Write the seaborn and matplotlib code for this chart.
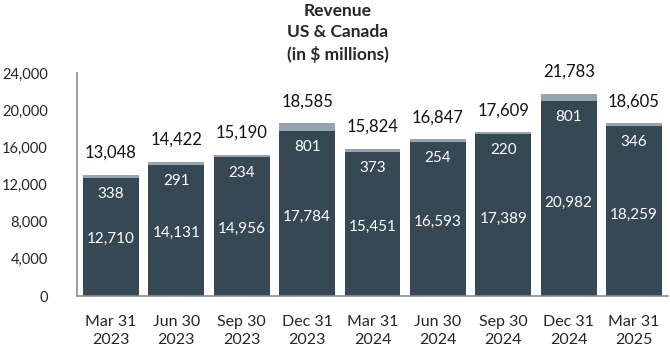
import matplotlib
matplotlib.use("Agg")
import matplotlib.pyplot as plt
import seaborn as sns
import pandas as pd

categories = ["Mar 31\n2023", "Jun 30\n2023", "Sep 30\n2023", "Dec 31\n2023",
              "Mar 31\n2024", "Jun 30\n2024", "Sep 30\n2024", "Dec 31\n2024",
              "Mar 31\n2025"]
base_values = [12710, 14131, 14956, 17784, 15451, 16593, 17389, 20982, 18259]
top_values = [338, 291, 234, 801, 373, 254, 220, 801, 346]
totals = [13048, 14422, 15190, 18585, 15824, 16847, 17609, 21783, 18605]
yticks = [0, 4000, 8000, 12000, 16000, 20000, 24000]

sns.set_theme(style="white")
plt.rcParams['font.family'] = ['Lato', 'DejaVu Sans']

df = pd.DataFrame({"cat": categories, "base": base_values, "top": top_values,
                   "total": totals})

DARK = "#364854"
LIGHT = "#95a5b0"

fig = plt.figure(figsize=(6.7, 3.52), dpi=100)
ax = fig.add_axes([77/670, 1-296/352, 591/670, 223/352])

sns.barplot(data=df, x="cat", y="total", color=LIGHT, saturation=1,
            width=0.856, ax=ax, order=categories, linewidth=0)
sns.barplot(data=df, x="cat", y="base", color=DARK, saturation=1,
            width=0.856, ax=ax, order=categories, linewidth=0)

px = 24000 / 223.0
for i, (b, t, tot) in enumerate(zip(base_values, top_values, totals)):
    ax.text(i, tot + 22*px, f"{tot:,}", ha="center", va="center",
            fontsize=12, color="#111111")
    ax.text(i, b - 16*px, f"{t:,}", ha="center", va="center",
            fontsize=11, color="white")
    ax.text(i, b*0.48, f"{b:,}", ha="center", va="center",
            fontsize=11, color="white")

ax.set_ylim(0, 24000)
ax.set_xlim(-0.52, 8.52)
ax.set_yticks(yticks)
ax.set_yticklabels([f"{v:,}" for v in yticks], fontsize=10.5)
ax.set_xticks(range(len(categories)))
ax.set_xticklabels(categories, fontsize=11.5, linespacing=1.3)
ax.tick_params(axis="x", length=0, pad=14)
ax.tick_params(axis="y", length=0, pad=21)
ax.set_xlabel("")
ax.set_ylabel("")
for s in ["top", "right"]:
    ax.spines[s].set_visible(False)
for s in ["left", "bottom"]:
    ax.spines[s].set_color("#8c8c8c")
    ax.spines[s].set_linewidth(1.2)

fig.text(338/670, 1-33/352, "Revenue\nUS & Canada\n(in $ millions)",
         ha="center", va="center", fontsize=12.5, fontweight="bold",
         linespacing=1.4)

fig.savefig("out.png", dpi=100)
